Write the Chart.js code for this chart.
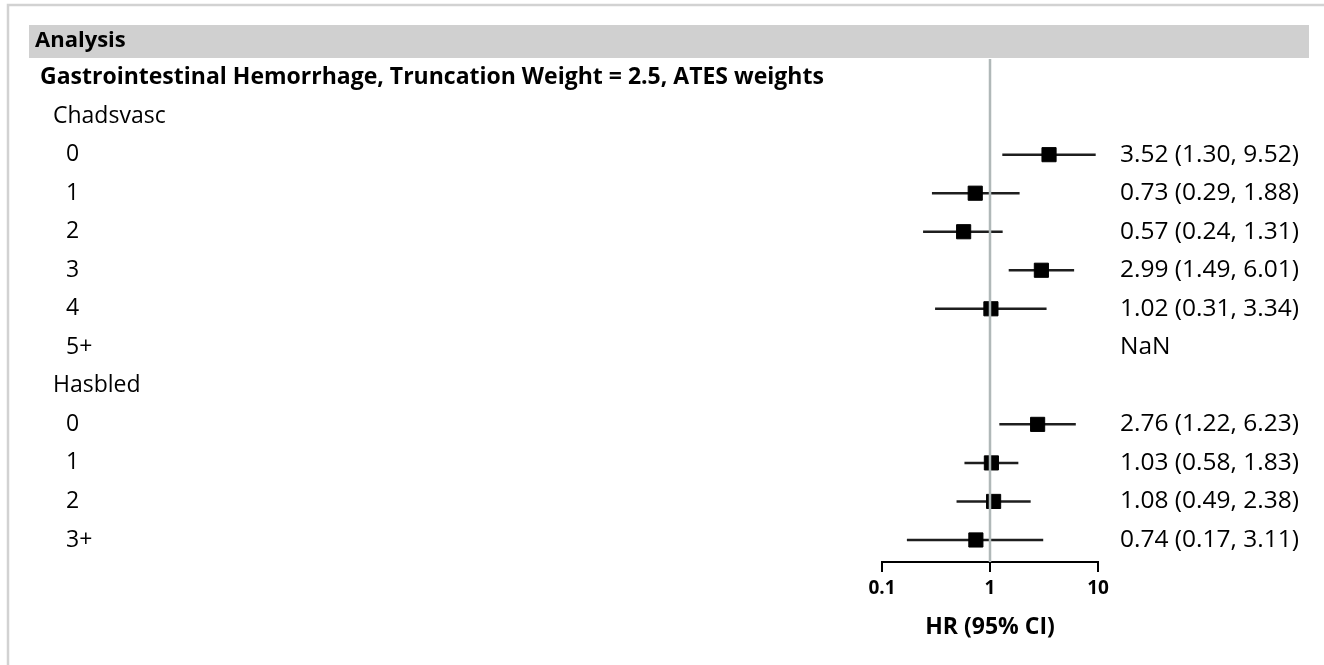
<!DOCTYPE html>
<html>
<head>
<meta charset="utf-8">
<script src="https://cdn.jsdelivr.net/npm/chart.js@4/dist/chart.umd.min.js"></script>
<style>
  html, body { margin: 0; padding: 0; background: #fff; }
  #wrap { width: 1324px; height: 665px; }
</style>
</head>
<body>
<div id="wrap"><canvas id="forest" width="1324" height="665"></canvas></div>
<script>
// Rows of the forest plot, top to bottom
const headerText = 'Analysis';
const rowLabels = [
  'Gastrointestinal Hemorrhage, Truncation Weight = 2.5, ATES weights',
  'Chadsvasc', '0', '1', '2', '3', '4', '5+',
  'Hasbled', '0', '1', '2', '3+'
];
// 0 = outcome title, 1 = subgroup heading, 2 = level
const rowLevel = [0, 1, 2, 2, 2, 2, 2, 2, 1, 2, 2, 2, 2];

// Hazard ratios with 95% CI (null = heading row, NaN = not estimable)
const hr    = [null, null, 3.52, 0.73, 0.57, 2.99, 1.02, NaN, null, 2.76, 1.03, 1.08, 0.74];
const lower = [null, null, 1.30, 0.29, 0.24, 1.49, 0.31, NaN, null, 1.22, 0.58, 0.49, 0.17];
const upper = [null, null, 9.52, 1.88, 1.31, 6.01, 3.34, NaN, null, 6.23, 1.83, 2.38, 3.11];

const xTicks = [0.1, 1, 10];
const xTitle = 'HR (95% CI)';

const FONT = '"Open Sans", "Noto Sans", sans-serif';

function hrLabel(i) {
  if (hr[i] === null) return '';
  if (isNaN(hr[i])) return 'NaN';
  return hr[i].toFixed(2) + ' (' + lower[i].toFixed(2) + ', ' + upper[i].toFixed(2) + ')';
}

// one dataset per confidence interval
const ciSets = [];
hr.forEach((v, i) => {
  if (v === null || isNaN(v)) return;
  ciSets.push({
    type: 'scatter',
    data: [{x: lower[i], y: i}, {x: upper[i], y: i}],
    showLine: true,
    borderColor: '#1e1e1e',
    borderWidth: 2.5,
    pointRadius: 0,
    order: 2
  });
});

const pointSet = {
  type: 'scatter',
  data: hr.map((v, i) => ({x: v, y: i})).filter(p => p.x !== null && !isNaN(p.x)),
  pointStyle: 'rect',
  pointRadius: 10,
  backgroundColor: '#000',
  borderColor: '#000',
  borderWidth: 1,
  order: 1
};

const framePlugin = {
  id: 'frame',
  beforeDraw(chart) {
    const ctx = chart.ctx;
    ctx.save();
    ctx.fillStyle = '#fff';
    ctx.fillRect(0, 0, chart.width, chart.height);
    // outer frame
    ctx.strokeStyle = '#d2d2d2';
    ctx.lineWidth = 2.5;
    ctx.strokeRect(8, 5, chart.width + 20, chart.height + 20);
    // header bar
    ctx.fillStyle = '#d0d0d0';
    ctx.fillRect(29, 25, 1280, 33);
    ctx.fillStyle = '#000';
    ctx.font = 'bold 22px ' + FONT;
    ctx.textBaseline = 'middle';
    ctx.fillText(headerText, 35, 41);
    ctx.restore();
  },
  afterDatasetsDraw(chart) {
    const {ctx, chartArea, scales} = chart;
    const x1 = scales.x.getPixelForValue(1);
    ctx.save();
    ctx.strokeStyle = '#b0b8b8';
    ctx.lineWidth = 2.5;
    ctx.beginPath();
    ctx.moveTo(x1, chartArea.top);
    ctx.lineTo(x1, chartArea.bottom);
    ctx.stroke();
    ctx.restore();
  },
  afterDraw(chart) {
    const {ctx, scales} = chart;
    const indent = [40, 53, 66];
    ctx.save();
    ctx.fillStyle = '#000';
    ctx.textBaseline = 'middle';
    rowLabels.forEach((t, i) => {
      const y = scales.y.getPixelForValue(i);
      ctx.font = (rowLevel[i] === 0 ? 'bold 23px ' : '23px ') + FONT;
      ctx.fillText(t, indent[rowLevel[i]], y);
      const r = hrLabel(i);
      if (r) {
        ctx.font = '24.5px ' + FONT;
        ctx.fillText(r, 1120, y);
      }
    });
    ctx.restore();
  }
};

new Chart(document.getElementById('forest'), {
  data: { datasets: ciSets.concat([pointSet]) },
  plugins: [framePlugin],
  options: {
    responsive: false,
    animation: false,
    devicePixelRatio: 1,
    layout: { padding: { left: 882, right: 226, top: 59, bottom: 0 } },
    plugins: { legend: { display: false }, tooltip: { enabled: false } },
    scales: {
      x: {
        type: 'logarithmic',
        min: 0.1,
        max: 10,
        afterBuildTicks: s => { s.ticks = xTicks.map(v => ({value: v})); },
        afterFit: s => { s.height = 103; },
        grid: { drawOnChartArea: false, color: '#000', lineWidth: 2, tickLength: 10 },
        border: { display: true, color: '#000', width: 2 },
        ticks: {
          color: '#000',
          padding: 5,
          autoSkip: false,
          maxRotation: 0,
          font: { family: FONT, size: 19, weight: 'bold' },
          callback: v => String(v)
        },
        title: {
          display: true,
          text: xTitle,
          color: '#000',
          font: { family: FONT, size: 23, weight: 'bold' },
          padding: { top: 0, bottom: 24 }
        }
      },
      y: {
        type: 'linear',
        reverse: true,
        min: -0.483,
        max: 12.572,
        display: false
      }
    }
  }
});
</script>
</body>
</html>
